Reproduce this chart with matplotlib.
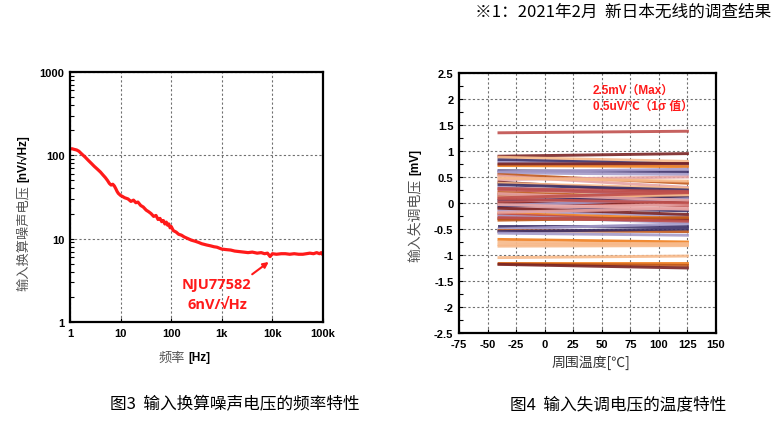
import numpy as np
import matplotlib
matplotlib.use("Agg")
import matplotlib.pyplot as plt
from matplotlib.ticker import FixedLocator, NullFormatter, MultipleLocator

plt.rcParams.update({"font.family": ["Liberation Sans", "Noto Sans CJK SC"], "font.size": 8,
                     "axes.unicode_minus": False})
CJK = ["Noto Sans CJK SC", "DejaVu Sans"]
RED = "#ff1a1a"

# ---- data: input noise vs frequency ----
freq = [1, 1.1, 1.2, 1.35, 1.5, 1.7, 2, 2.3, 2.7, 3, 3.5, 4, 4.5, 5, 5.5, 6, 6.5, 7, 7.5, 8,
        8.5, 9, 10, 11, 12, 14, 16, 18, 20, 22, 25, 28, 32, 36, 40, 45, 50, 55, 60, 65, 70,
        75, 80, 85, 90, 95, 100, 110, 125, 140, 160, 180, 200, 250, 300, 350, 400, 500, 600,
        700, 800, 1000, 1200, 1500, 1800, 2200, 2700, 3300, 4000, 5000, 6000, 7000, 8000,
        9000, 10000, 12000, 15000, 18000, 22000, 27000, 33000, 40000, 47000, 55000, 65000,
        75000, 85000, 92000, 100000]
noise = [119, 120, 118, 116, 112, 104, 95, 87, 79, 74, 68, 63, 58, 54, 50, 46, 44, 45, 43, 40,
         37, 35, 33, 32, 31, 30, 28, 29, 27, 27.5, 25, 24, 22, 21, 20, 18.5, 19, 17, 17.5, 16,
         16.5, 15, 15.8, 14.5, 15, 13.5, 14, 12.5, 12, 11.3, 11, 10.5, 10.2, 9.6, 9.3, 9.0,
         8.7, 8.4, 8.2, 8.0, 7.9, 7.5, 7.4, 7.3, 7.1, 7.0, 6.9, 6.8, 6.9, 6.7, 6.8, 6.6, 6.7,
         6.1, 6.6, 6.5, 6.6, 6.6, 6.5, 6.6, 6.5, 6.5, 6.6, 6.7, 6.6, 6.8, 6.6, 6.8, 6.4]
x_ticks = [1, 10, 100, 1000, 10000, 100000]
x_ticklabels = ["1", "10", "100", "1k", "10k", "100k"]
y_ticks = [1, 10, 100, 1000]

# ---- data: offset voltage vs temperature (start at -40C, end at 125C) ----
temps = [-40, 125]
vos_start = [1.35, 0.90, 0.88, 0.83, 0.78, 0.72, 0.75, 0.62, 0.58, 0.55, 0.52, 0.45, 0.40,
             0.38, 0.35, 0.30, 0.25, 0.20, 0.15, 0.12, 0.05, 0.02, -0.02, -0.05, -0.08, -0.12,
             -0.15, -0.20, -0.22, -0.25, -0.30, -0.33, -0.45, -0.50, -0.53, -0.55, -0.58, -0.70,
             -0.75, -0.80, -0.83, -1.05, -1.15, -1.17, -1.18,
             0.48, 0.28, 0.18, 0.08, -0.10, -0.18, -0.28, 0.60, 0.10, -0.03]
vos_end = [1.38, 0.95, 0.80, 0.75, 0.72, 0.70, 0.76, 0.60, 0.55, 0.38, 0.30, 0.50, 0.20,
           0.28, 0.25, 0.12, 0.18, 0.10, 0.05, 0.15, 0.10, -0.05, 0.03, 0.08, -0.15, -0.02,
           -0.25, -0.30, -0.35, -0.38, -0.32, -0.28, -0.45, -0.40, -0.55, -0.50, -0.62, -0.75,
           -0.80, -0.78, -0.82, -1.02, -1.15, -1.20, -1.25,
           0.42, 0.22, 0.05, 0.00, -0.22, -0.10, -0.35, 0.65, 0.20, -0.12]
line_kind = ["salmon", "maroon", "lorange", "navy", "lpurple", "orange", "maroon", "navy",
             "lpurple", "brown", "pink", "pink", "maroon", "lorange", "navy", "lpurple",
             "salmon", "brown", "maroon", "lorange", "navy", "salmon", "maroon", "lpurple",
             "navy", "pink", "lpurple", "orange", "salmon", "lpurple", "maroon", "brown",
             "navy", "lpurple", "brown", "navy", "lpurple", "orange", "lorange", "lorange",
             "lorange", "lorange", "orange", "brown", "maroon",
             "lorange", "salmon", "pink", "salmon", "maroon", "pink", "salmon", "lpurple",
             "salmon", "pink"]
palette = {"maroon": "#7a2424", "navy": "#3b3068", "lpurple": "#a59bc9", "orange": "#f07f1e",
           "lorange": "#f7b98a", "brown": "#c0581a", "salmon": "#c0504d", "pink": "#e6a3a3"}

fig = plt.figure(figsize=(7.79, 4.27), dpi=100)
W, H = 779, 427

def px_axes(x0, y0, x1, y1):
    return fig.add_axes([x0 / W, 1 - y1 / H, (x1 - x0) / W, (y1 - y0) / H])

def style(ax):
    for s in ax.spines.values():
        s.set_linewidth(1.6)
    ax.grid(True, which="major", color="#707070", linestyle=(0, (2, 2)), linewidth=0.8)
    ax.tick_params(which="both", direction="in", length=3, width=0.8, pad=4)
    ax.tick_params(which="major", labelsize=8)
    for lab in ax.get_xticklabels() + ax.get_yticklabels():
        lab.set_fontweight("bold")

# ---- left: noise ----
ax1 = px_axes(70, 73, 323, 323)
ax1.plot(freq, noise, color=RED, linewidth=2.3)
ax1.set_xscale("log"); ax1.set_yscale("log")
ax1.set_xlim(1, 100000); ax1.set_ylim(1, 1000)
ax1.set_xticks(x_ticks); ax1.set_xticklabels(x_ticklabels)
ax1.set_yticks(y_ticks); ax1.set_yticklabels([str(v) for v in y_ticks])
ax1.xaxis.set_minor_locator(FixedLocator([]))
ax1.yaxis.set_minor_formatter(NullFormatter())
ax1.tick_params(axis="x", which="major", length=0, pad=8)
style(ax1)
ax1.annotate("", xy=(9350, 5.5), xytext=(3600, 3.57),
             arrowprops=dict(arrowstyle="-|>", color=RED, lw=1.5, mutation_scale=8))
ax1.text(800, 2.86, "NJU77582", color=RED, fontsize=10.5, fontweight="bold",
         family="Open Sans", ha="center", va="center")
ax1.text(800, 1.64, "6nV/√Hz", color=RED, fontsize=10.5, fontweight="bold",
         family=["Open Sans", "DejaVu Sans"], ha="center", va="center")
fig.text(23 / W, 1 - 238 / H, "输入换算噪声电压", rotation=90, family=CJK, fontsize=9.5,
         color="#555555", ha="center", va="center")
fig.text(23 / W, 1 - 159 / H, "[nV/√Hz]", rotation=90, fontsize=8.5, fontweight="bold",
         ha="center", va="center")
fig.text(172 / W, 1 - 358 / H, "频率", family=CJK, fontsize=9.5, color="#555555",
         ha="center", va="center")
fig.text(199 / W, 1 - 358 / H, "[Hz]", fontsize=8.5, fontweight="bold", ha="center",
         va="center")

# ---- right: offset voltage ----
ax2 = px_axes(459, 74, 716, 334)
for v0, v1, k in zip(vos_start, vos_end, line_kind):
    ax2.plot(temps, [v0, v1], color=palette[k], linewidth=2.1, alpha=0.9)
ax2.set_xlim(-75, 150); ax2.set_ylim(-2.5, 2.5)
ax2.xaxis.set_major_locator(MultipleLocator(25))
ax2.yaxis.set_minor_locator(MultipleLocator(0.25))
ax2.set_yticks(np.arange(-2.5, 2.51, 0.5))
ax2.set_yticklabels([f"{v:g}" for v in np.arange(-2.5, 2.51, 0.5)])
ax2.tick_params(axis="x", which="major", length=0, pad=8)
style(ax2)
ax2.text(42, 2.17, "2.5mV（Max）", color=RED, fontsize=8.5, fontweight="bold",
         family=["Liberation Sans", "Noto Sans CJK SC"], va="center")
ax2.text(42, 1.865, "0.5uV/℃（1σ 值）", color=RED, fontsize=8.5, fontweight="bold",
         family=["Liberation Sans", "Noto Sans CJK SC"], va="center")
fig.text(415 / W, 1 - 220 / H, "输入失调电压", rotation=90, family=CJK, fontsize=10,
         color="#555555", ha="center", va="center")
fig.text(415 / W, 1 - 162 / H, "[mV]", rotation=90, fontsize=8.5, fontweight="bold",
         ha="center", va="center")
fig.text(591 / W, 1 - 363 / H, "周围温度[℃]", family=CJK, fontsize=10, color="#333333",
         ha="center", va="center")

# ---- captions ----
fig.text(110 / W, 1 - 405 / H, "图3  输入换算噪声电压的频率特性", family=CJK, fontsize=12,
         ha="left", va="center")
fig.text(510 / W, 1 - 405 / H, "图4  输入失调电压的温度特性", family=CJK, fontsize=12,
         ha="left", va="center")
fig.text(771 / W, 1 - 12 / H, "※1：2021年2月  新日本无线的调查结果", family=CJK,
         fontsize=12, ha="right", va="center")

fig.savefig("out.png", dpi=100)
